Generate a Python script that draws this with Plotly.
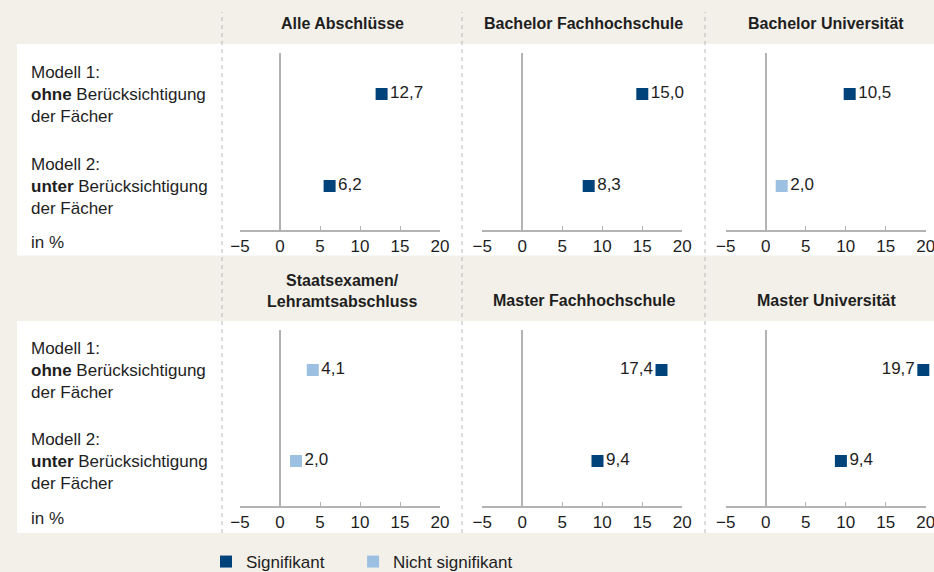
import plotly.graph_objects as go

# ---- data ----
panels = ["Alle Abschlüsse", "Bachelor Fachhochschule", "Bachelor Universität",
          "Staatsexamen/<br>Lehramtsabschluss", "Master Fachhochschule", "Master Universität"]
modell_1 = [12.7, 15.0, 10.5, 4.1, 17.4, 19.7]
modell_2 = [6.2, 8.3, 2.0, 2.0, 9.4, 9.4]
signif_1 = [True, True, True, False, True, True]
signif_2 = [True, True, False, False, True, True]
row_labels = ["Modell 1:<br><b>ohne</b> Berücksichtigung<br>der Fächer",
              "Modell 2:<br><b>unter</b> Berücksichtigung<br>der Fächer"]
unit_label = "in %"
tick_vals = [-5, 0, 5, 10, 15, 20]
tick_text = ["−5", "0", "5", "10", "15", "20"]
legend_names = ["Signifikant", "Nicht signifikant"]

# ---- style ----
W, H = 934, 572
FONT = "Liberation Sans"
BG = "#f3f0e9"
DARK = "#00427a"
LIGHT = "#9cc0e1"
TXT = "#1e1e1e"
AX = "#b3b3b3"

def fx(p):
    return p / W

def fy(p):
    return 1 - p / H

col_left = [240, 482.3, 725.7]
col_w = 200
row_axis = [(53, 229.7), (330, 506)]
row_range = [[1.475, -0.446], [1.495, -0.44]]
row_marker_y = [(94, 186), (370, 461)]
row_unit_y = [242, 518]
title_y = [23, 300]
title_cx = [342, 583.5, 826]
dash_x = [222, 462, 705]

fig = go.Figure()
layout = {}
shown = {True: False, False: False}

for i, name in enumerate(panels):
    r, c = divmod(i, 3)
    k = i + 1
    xa = "x" if k == 1 else f"x{k}"
    ya = "y" if k == 1 else f"y{k}"
    vals = [modell_1[i], modell_2[i]]
    sigs = [signif_1[i], signif_2[i]]
    for sig in (True, False):
        xs, ys, txt, pos = [], [], [], []
        for m in range(2):
            if sigs[m] == sig:
                xs.append(vals[m])
                ys.append(m)
                txt.append(f"{vals[m]:.1f}".replace(".", ","))
                pos.append("middle left" if vals[m] >= 17 else "middle right")
        if not xs:
            continue
        fig.add_trace(go.Scatter(
            x=xs, y=ys, xaxis=xa, yaxis=ya, mode="markers+text",
            text=txt, textposition=pos,
            textfont=dict(family=FONT, size=17, color=TXT),
            marker=dict(symbol="square", size=12, color=DARK if sig else LIGHT,
                        line=dict(width=0)),
            name=(legend_names[0] + "\u00a0" * 5) if sig else legend_names[1],
            legendgroup="s" if sig else "n",
            legendrank=1 if sig else 2,
            showlegend=not shown[sig], cliponaxis=False, hoverinfo="skip"))
        shown[sig] = True
    xkey = "xaxis" if k == 1 else f"xaxis{k}"
    ykey = "yaxis" if k == 1 else f"yaxis{k}"
    layout[xkey] = dict(
        domain=[fx(col_left[c]), fx(col_left[c] + col_w)], anchor=ya,
        range=[-5, 20], tickvals=tick_vals, ticktext=tick_text,
        showgrid=False, zeroline=True, zerolinecolor=AX, zerolinewidth=1.5,
        showline=True, linecolor=AX, linewidth=1.5,
        ticks="inside", ticklen=4, tickcolor=AX, tickwidth=1,
        ticklabeloverflow="allow",
        tickfont=dict(family=FONT, size=17, color=TXT), fixedrange=True)
    layout[ykey] = dict(
        domain=[fy(row_axis[r][1]), fy(row_axis[r][0])], anchor=xa,
        range=row_range[r], visible=False, fixedrange=True)

shapes = []
for r in range(2):
    top, bot = (44, 255.5) if r == 0 else (321, 533)
    shapes.append(dict(type="rect", xref="paper", yref="paper", layer="below",
                       x0=fx(17), x1=fx(W + 5), y0=fy(bot), y1=fy(top),
                       fillcolor="white", line=dict(width=0)))
for x in dash_x:
    shapes.append(dict(type="line", xref="paper", yref="paper", layer="below",
                       x0=fx(x), x1=fx(x), y0=fy(533), y1=fy(12),
                       line=dict(color="#b8b8b8", width=1, dash="4px,4px")))

annotations = []
for i, name in enumerate(panels):
    r, c = divmod(i, 3)
    ty = 291 if "<br>" in name else title_y[r]
    annotations.append(dict(
        text="<b>" + name.replace("<br>", "</b><br><b>") + "</b>",
        xref="paper", yref="paper", x=fx(title_cx[c]), y=fy(ty),
        xanchor="center", yanchor="middle", showarrow=False, align="center",
        font=dict(family=FONT, size=16, color=TXT)))
for r in range(2):
    for m in range(2):
        annotations.append(dict(
            text=row_labels[m], xref="paper", yref="paper",
            x=fx(29), y=fy(row_marker_y[r][m]), xanchor="left", yanchor="middle",
            align="left", showarrow=False,
            font=dict(family=FONT, size=17, color=TXT)))
    annotations.append(dict(
        text=unit_label, xref="paper", yref="paper", x=fx(29), y=fy(row_unit_y[r]),
        xanchor="left", yanchor="middle", showarrow=False,
        font=dict(family=FONT, size=17, color=TXT)))

fig.update_layout(
    width=W, height=H, margin=dict(l=0, r=0, t=0, b=0, pad=0, autoexpand=False),
    paper_bgcolor=BG, plot_bgcolor="rgba(0,0,0,0)",
    showlegend=True,
    legend=dict(orientation="h", x=fx(206), y=fy(562), xanchor="left",
                yanchor="middle", font=dict(family=FONT, size=17, color=TXT),
                bgcolor="rgba(0,0,0,0)", borderwidth=0, itemsizing="trace"),
    shapes=shapes, annotations=annotations, **layout)

fig.write_html(
    "out.html",
    config={"displayModeBar": False},
    post_script="document.body.style.margin='0';document.body.style.overflow='hidden';")
